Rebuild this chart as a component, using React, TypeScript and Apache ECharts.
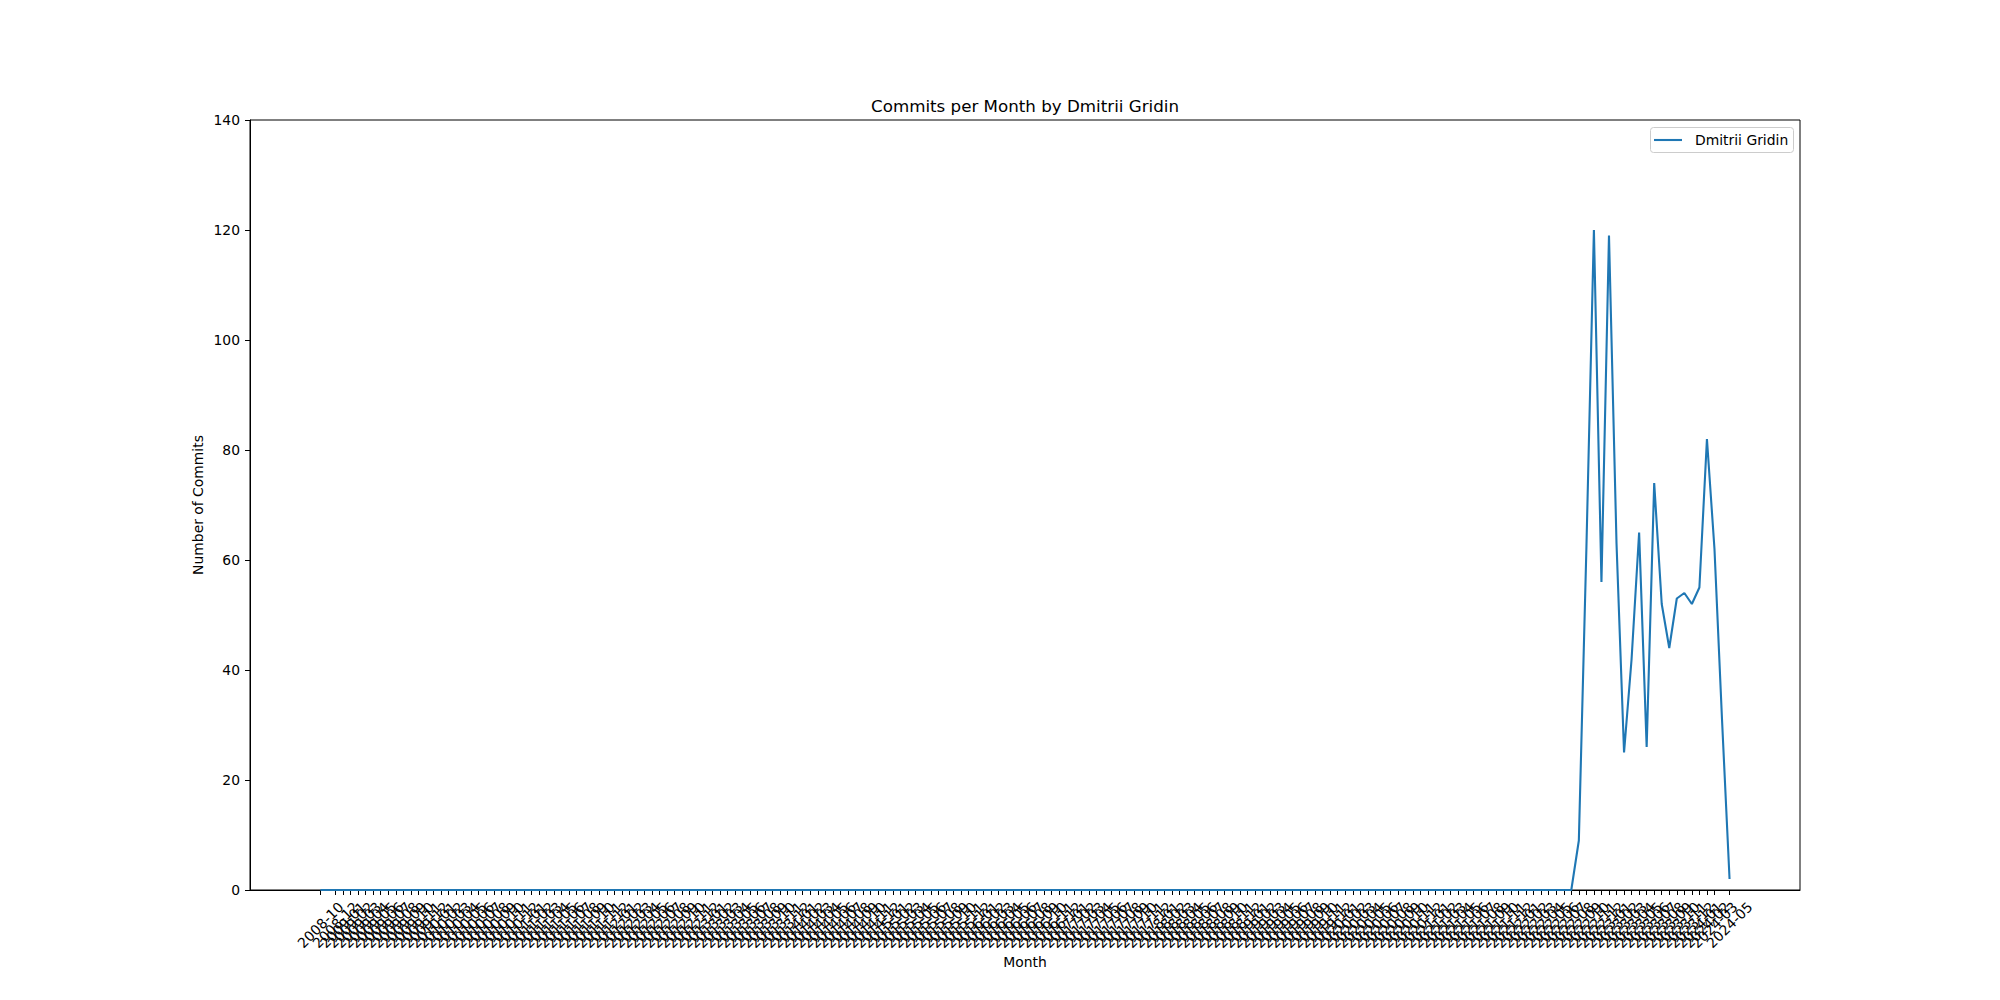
import React, { useEffect, useRef } from "react";
import * as echarts from "echarts";

const months: string[] = [
  "2008-10", "2008-11", "2008-12",
  "2009-01", "2009-02", "2009-03", "2009-04", "2009-05", "2009-06", "2009-07", "2009-08", "2009-09", "2009-10", "2009-11", "2009-12",
  "2010-01", "2010-02", "2010-03", "2010-04", "2010-05", "2010-06", "2010-07", "2010-08", "2010-09", "2010-10", "2010-11", "2010-12",
  "2011-01", "2011-02", "2011-03", "2011-04", "2011-05", "2011-06", "2011-07", "2011-08", "2011-09", "2011-10", "2011-11", "2011-12",
  "2012-01", "2012-02", "2012-03", "2012-04", "2012-05", "2012-06", "2012-07", "2012-08", "2012-09", "2012-10", "2012-11", "2012-12",
  "2013-01", "2013-02", "2013-03", "2013-04", "2013-05", "2013-06", "2013-07", "2013-08", "2013-09", "2013-10", "2013-11", "2013-12",
  "2014-01", "2014-02", "2014-03", "2014-04", "2014-05", "2014-06", "2014-07", "2014-08", "2014-09", "2014-10", "2014-11", "2014-12",
  "2015-01", "2015-02", "2015-03", "2015-04", "2015-05", "2015-06", "2015-07", "2015-08", "2015-09", "2015-10", "2015-11", "2015-12",
  "2016-01", "2016-02", "2016-03", "2016-04", "2016-05", "2016-06", "2016-07", "2016-08", "2016-09", "2016-10", "2016-11", "2016-12",
  "2017-01", "2017-02", "2017-03", "2017-04", "2017-05", "2017-06", "2017-07", "2017-08", "2017-09", "2017-10", "2017-11", "2017-12",
  "2018-01", "2018-02", "2018-03", "2018-04", "2018-05", "2018-06", "2018-07", "2018-08", "2018-09", "2018-10", "2018-11", "2018-12",
  "2019-01", "2019-02", "2019-03", "2019-04", "2019-05", "2019-06", "2019-07", "2019-08", "2019-09", "2019-10", "2019-11", "2019-12",
  "2020-01", "2020-02", "2020-03", "2020-04", "2020-05", "2020-06", "2020-07", "2020-08", "2020-09", "2020-10", "2020-11", "2020-12",
  "2021-01", "2021-02", "2021-03", "2021-04", "2021-05", "2021-06", "2021-07", "2021-08", "2021-09", "2021-10", "2021-11", "2021-12",
  "2022-01", "2022-02", "2022-03", "2022-04", "2022-05", "2022-06", "2022-07", "2022-08", "2022-09", "2022-10", "2022-11", "2022-12",
  "2023-01", "2023-02", "2023-03", "2023-04", "2023-05", "2023-06", "2023-07", "2023-08", "2023-09", "2023-10", "2023-11", "2023-12",
  "2024-01", "2024-02", "2024-03", "2024-04", "2024-05",
];

const commits: number[] = [
  0, 0, 0,
  0, 0, 0, 0, 0, 0, 0, 0, 0, 0, 0, 0,
  0, 0, 0, 0, 0, 0, 0, 0, 0, 0, 0, 0,
  0, 0, 0, 0, 0, 0, 0, 0, 0, 0, 0, 0,
  0, 0, 0, 0, 0, 0, 0, 0, 0, 0, 0, 0,
  0, 0, 0, 0, 0, 0, 0, 0, 0, 0, 0, 0,
  0, 0, 0, 0, 0, 0, 0, 0, 0, 0, 0, 0,
  0, 0, 0, 0, 0, 0, 0, 0, 0, 0, 0, 0,
  0, 0, 0, 0, 0, 0, 0, 0, 0, 0, 0, 0,
  0, 0, 0, 0, 0, 0, 0, 0, 0, 0, 0, 0,
  0, 0, 0, 0, 0, 0, 0, 0, 0, 0, 0, 0,
  0, 0, 0, 0, 0, 0, 0, 0, 0, 0, 0, 0,
  0, 0, 0, 0, 0, 0, 0, 0, 0, 0, 0, 0,
  0, 0, 0, 0, 0, 0, 0, 0, 0, 0, 0, 0,
  0, 0, 0, 0, 0, 0, 0, 0, 9, 62, 120, 56,
  119, 63, 25, 42, 65, 26, 74, 52, 44, 53, 54, 52,
  55, 82, 62, 31, 2,
];

const yTicks: number[] = [0, 20, 40, 60, 80, 100, 120, 140];

const TITLE = "Commits per Month by Dmitrii Gridin";
const SERIES_NAME = "Dmitrii Gridin";
const X_NAME = "Month";
const Y_NAME = "Number of Commits";

const FONT = "'DejaVu Sans', 'Liberation Sans', sans-serif";
const BLUE = "#1f77b4";

export default function App() {
  const ref = useRef<HTMLDivElement | null>(null);

  useEffect(() => {
    if (!ref.current) return;
    const chart = echarts.init(ref.current, null, { renderer: "svg" });
    const idx = months.map((_, i) => i);
    const span = months.length - 1;
    const pad = span * 0.05;

    chart.setOption({
      animation: false,
      backgroundColor: "#ffffff",
      textStyle: { fontFamily: FONT },
      grid: {
        left: 250,
        right: 200,
        top: 120,
        bottom: 110,
        show: true,
        borderColor: "#000",
        borderWidth: 1,
        backgroundColor: "transparent",
        containLabel: false,
      },
      xAxis: {
        type: "value",
        min: -pad,
        max: span + pad,
        splitLine: { show: false },
        axisLine: { show: true, onZero: false, lineStyle: { color: "#000", width: 1 } },
        axisTick: {
          show: true,
          inside: false,
          length: 5,
          customValues: idx,
          lineStyle: { color: "#000", width: 1 },
        },
        axisLabel: {
          show: true,
          customValues: idx,
          rotate: 45,
          align: "center",
          verticalAlign: "middle",
          margin: 35,
          hideOverlap: false,
          showMinLabel: true,
          showMaxLabel: true,
          fontFamily: FONT,
          fontSize: 13.9,
          color: "#000",
          formatter: (v: number) => months[Math.round(v)] ?? "",
        },
      },
      yAxis: {
        type: "value",
        min: yTicks[0],
        max: yTicks[yTicks.length - 1],
        interval: yTicks[1] - yTicks[0],
        splitLine: { show: false },
        axisLine: { show: true, onZero: false, lineStyle: { color: "#000", width: 1 } },
        axisTick: { show: true, inside: false, length: 5, lineStyle: { color: "#000", width: 1 } },
        axisLabel: {
          margin: 10,
          showMinLabel: true,
          showMaxLabel: true,
          fontFamily: FONT,
          fontSize: 13.9,
          color: "#000",
        },
      },
      series: [
        {
          name: SERIES_NAME,
          type: "line",
          data: commits.map((v, i) => [i, v]),
          symbol: "none",
          showSymbol: false,
          lineStyle: { color: BLUE, width: 2.1 },
          itemStyle: { color: BLUE },
          z: 3,
        },
      ],
      graphic: [
        {
          type: "text",
          x: 1025,
          y: 106,
          style: {
            text: TITLE,
            fontFamily: FONT,
            fontSize: 16.7,
            fill: "#000",
            textAlign: "center",
            textVerticalAlign: "middle",
          },
        },
        {
          type: "text",
          x: 1025,
          y: 962,
          style: {
            text: X_NAME,
            fontFamily: FONT,
            fontSize: 13.9,
            fill: "#000",
            textAlign: "center",
            textVerticalAlign: "middle",
          },
        },
        {
          type: "text",
          x: 198,
          y: 505,
          rotation: Math.PI / 2,
          style: {
            text: Y_NAME,
            fontFamily: FONT,
            fontSize: 13.9,
            fill: "#000",
            textAlign: "center",
            textVerticalAlign: "middle",
          },
        },
        {
          type: "rect",
          shape: { x: 1650.5, y: 127.5, width: 143, height: 25, r: 3 },
          style: { fill: "rgba(255,255,255,0.8)", stroke: "#cccccc", lineWidth: 1 },
          z: 10,
        },
        {
          type: "line",
          shape: { x1: 1654, y1: 140, x2: 1682, y2: 140 },
          style: { stroke: BLUE, lineWidth: 2.1 },
          z: 11,
        },
        {
          type: "text",
          x: 1695,
          y: 140,
          style: {
            text: SERIES_NAME,
            fontFamily: FONT,
            fontSize: 13.9,
            fill: "#000",
            textAlign: "left",
            textVerticalAlign: "middle",
          },
          z: 11,
        },
      ],
    });

    return () => {
      chart.dispose();
    };
  }, []);

  return (
    <div
      ref={ref}
      style={{ position: "fixed", left: 0, top: 0, width: 2000, height: 1000, background: "#fff" }}
    />
  );
}
